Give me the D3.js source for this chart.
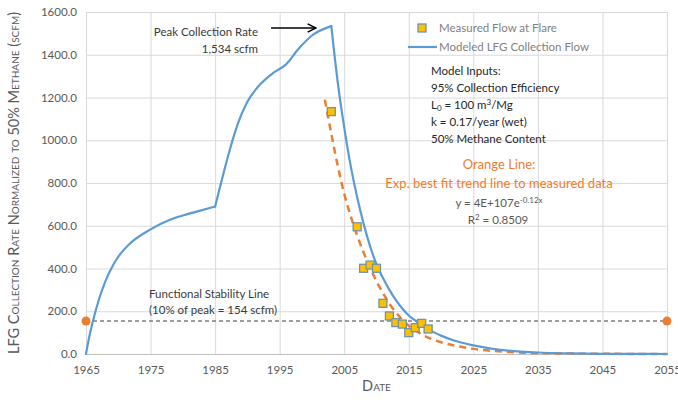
<!DOCTYPE html>
<html>
<head>
<meta charset="utf-8">
<script src="https://cdn.jsdelivr.net/npm/d3@7.9.0/dist/d3.min.js"></script>
<style>
  body { margin: 0; background: #fff; }
  text { font-family: Lato, "Open Sans", sans-serif; }
</style>
</head>
<body>
<div id="chart"></div>
<script>
// modeled LFG collection flow (three phases)
const phase1Years = [1965, 1965.5, 1966, 1967, 1968, 1969, 1970, 1972, 1975, 1978, 1980, 1982, 1985];
const phase1Flow  = [0, 80, 145, 255, 340, 405, 455, 522, 583, 628, 648, 665, 690];
const phase2Years = [1985, 1986, 1987, 1988, 1989, 1990, 1992, 1994, 1996, 1998, 2000, 2003];
const phase2Flow  = [690, 810, 925, 1030, 1115, 1180, 1262, 1315, 1355, 1430, 1490, 1534];
const phase3Years = [2003, 2004, 2005, 2006, 2007, 2008, 2009, 2010, 2011, 2012, 2013, 2014, 2015, 2016, 2017, 2018, 2019, 2020, 2022, 2025, 2028, 2030, 2035, 2040, 2045, 2050, 2055];
const phase3Flow  = [1534, 1270, 1060, 880, 735, 610, 505, 420, 355, 300, 252, 213, 180, 157, 135, 116, 100, 86, 63, 40, 24, 17, 7, 3, 1, 0.5, 0];

// measured flow at flare
const measuredYears = [2003, 2007, 2008, 2009, 2010, 2011, 2012, 2013, 2014, 2015, 2016, 2017, 2018];
const measuredFlow  = [1134, 595, 401, 416, 401, 237, 178, 147, 140, 100, 123, 143, 117];

// exponential trend line (orange dashed)
const trendYears = [2002, 2003, 2004, 2005, 2006, 2007, 2008, 2009, 2010, 2011, 2012, 2013, 2014, 2015, 2016, 2017, 2018, 2020, 2022, 2025, 2030, 2035, 2045, 2055];
const trendFlow  = [1190, 1030, 880, 750, 645, 555, 475, 405, 340, 285, 235, 195, 160, 132, 110, 92, 77, 55, 40, 24, 10, 4, 1, 0];

const stabilityLine = 154;
const xTicks = [1965, 1975, 1985, 1995, 2005, 2015, 2025, 2035, 2045, 2055];
const yTicks = [0, 200, 400, 600, 800, 1000, 1200, 1400, 1600];

const width = 678;
const height = 400;
const margin = { top: 12, right: 11, bottom: 46, left: 86 };

const svg = d3.select('#chart')
  .append('svg')
  .attr('width', width)
  .attr('height', height);

const x = d3.scaleLinear().domain([1965, 2055]).range([margin.left, width - margin.right]);
const y = d3.scaleLinear().domain([0, 1600]).range([height - margin.bottom, margin.top]);

const plotW = width - margin.left - margin.right;
const plotH = height - margin.top - margin.bottom;

// gridlines
svg.append('g')
  .attr('transform', `translate(${margin.left},0)`)
  .call(d3.axisLeft(y).tickValues(yTicks).tickFormat('').tickSize(-plotW))
  .call(g => g.select('.domain').remove())
  .call(g => g.selectAll('line').attr('stroke', '#d9d9d9'));

svg.append('g')
  .attr('transform', `translate(0,${margin.top})`)
  .call(d3.axisBottom(x).tickValues(xTicks).tickFormat('').tickSize(plotH))
  .call(g => g.select('.domain').remove())
  .call(g => g.selectAll('line').attr('stroke', '#d9d9d9'));

// axes
svg.append('g')
  .attr('transform', `translate(0,${y(0)})`)
  .call(d3.axisBottom(x).tickValues(xTicks).tickFormat(d3.format('d')).tickSize(0).tickPadding(12))
  .call(g => g.select('.domain').attr('stroke', '#bfbfbf'))
  .call(g => g.selectAll('text').attr('fill', '#595959').style('font-size', '11.5px'));

svg.append('g')
  .attr('transform', `translate(${margin.left},0)`)
  .call(d3.axisLeft(y).tickValues(yTicks).tickFormat(d3.format('.1f')).tickSize(0).tickPadding(9))
  .call(g => g.select('.domain').remove())
  .call(g => g.selectAll('text').attr('fill', '#595959').style('font-size', '11.5px'));

// axis titles
svg.append('text')
  .attr('transform', `translate(19,${(margin.top + y(0)) / 2}) rotate(-90)`)
  .attr('text-anchor', 'middle')
  .attr('fill', '#595959')
  .style('font-size', '14.5px')
  .style('font-variant', 'small-caps')
  .text('LFG Collection Rate Normalized to 50% Methane (scfm)');

svg.append('text')
  .attr('x', (x(1965) + x(2055)) / 2)
  .attr('y', 391)
  .attr('text-anchor', 'middle')
  .attr('fill', '#595959')
  .style('font-size', '14.5px')
  .style('font-variant', 'small-caps')
  .text('Date');

// functional stability line
svg.append('line')
  .attr('x1', x(1965)).attr('x2', x(2055))
  .attr('y1', y(stabilityLine)).attr('y2', y(stabilityLine))
  .attr('stroke', '#7f7f7f')
  .attr('stroke-width', 1.5)
  .attr('stroke-dasharray', '4,3');

svg.selectAll('.stab-dot')
  .data([1965, 2055])
  .join('circle')
  .attr('cx', d => x(d))
  .attr('cy', y(stabilityLine))
  .attr('r', 4.5)
  .attr('fill', '#ed7d31');

const line = d3.line()
  .x(d => x(d[0]))
  .y(d => y(d[1]))
  .curve(d3.curveMonotoneX);

const zip = (a, b) => a.map((v, i) => [v, b[i]]);

// trend line
svg.append('path')
  .datum(zip(trendYears, trendFlow))
  .attr('d', line)
  .attr('fill', 'none')
  .attr('stroke', '#ed7d31')
  .attr('stroke-width', 2.5)
  .attr('stroke-dasharray', '7,5');

// modeled flow
[zip(phase1Years, phase1Flow), zip(phase2Years, phase2Flow), zip(phase3Years, phase3Flow)].forEach(seg => {
  svg.append('path')
    .datum(seg)
    .attr('d', line)
    .attr('fill', 'none')
    .attr('stroke', '#5b9bd5')
    .attr('stroke-width', 2.2)
    .attr('stroke-linejoin', 'round')
    .attr('stroke-linecap', 'round');
});

// measured points
const sq = 8;
svg.selectAll('.measured')
  .data(zip(measuredYears, measuredFlow))
  .join('rect')
  .attr('x', d => x(d[0]) - sq / 2)
  .attr('y', d => y(d[1]) - sq / 2)
  .attr('width', sq)
  .attr('height', sq)
  .attr('fill', '#ffc000')
  .attr('stroke', '#6f94ac')
  .attr('stroke-width', 1.3);

// legend
svg.append('rect')
  .attr('x', 418).attr('y', 24).attr('width', 8).attr('height', 8)
  .attr('fill', '#ffc000').attr('stroke', '#6f94ac').attr('stroke-width', 1.3);
svg.append('text')
  .attr('x', 439).attr('y', 32)
  .attr('fill', '#7f7f7f').style('font-size', '11.5px')
  .text('Measured Flow at Flare');
svg.append('line')
  .attr('x1', 408).attr('x2', 437).attr('y1', 47).attr('y2', 47)
  .attr('stroke', '#5b9bd5').attr('stroke-width', 2.2);
svg.append('text')
  .attr('x', 439).attr('y', 51)
  .attr('fill', '#7f7f7f').style('font-size', '11.5px')
  .text('Modeled LFG Collection Flow');

// peak annotation
svg.append('defs').append('marker')
  .attr('id', 'arrow')
  .attr('viewBox', '0 0 10 10')
  .attr('refX', 9).attr('refY', 5)
  .attr('markerWidth', 8).attr('markerHeight', 8)
  .attr('orient', 'auto')
  .append('path')
  .attr('d', 'M1,1 L9,5 L1,9')
  .attr('fill', 'none')
  .attr('stroke', '#000')
  .attr('stroke-width', 1.4);

svg.append('line')
  .attr('x1', 271).attr('x2', 316).attr('y1', 28).attr('y2', 28)
  .attr('stroke', '#000').attr('stroke-width', 1.3)
  .attr('marker-end', 'url(#arrow)');

const dark = '#3a3a3a';
svg.append('text')
  .attr('x', 258).attr('y', 36)
  .attr('text-anchor', 'end')
  .attr('fill', dark).style('font-size', '11.5px')
  .text('Peak Collection Rate');
svg.append('text')
  .attr('x', 258).attr('y', 53)
  .attr('text-anchor', 'end')
  .attr('fill', dark).style('font-size', '11.5px')
  .text('1,534 scfm');

// model inputs block
const inputs = svg.append('text')
  .attr('fill', '#262626').style('font-size', '11.5px');
inputs.append('tspan').attr('x', 431).attr('y', 75).text('Model Inputs:');
inputs.append('tspan').attr('x', 431).attr('y', 92).text('95% Collection Efficiency');
const l0 = inputs.append('tspan').attr('x', 431).attr('y', 109);
l0.append('tspan').text('L');
l0.append('tspan').attr('dy', 2).style('font-size', '8px').text('0');
l0.append('tspan').attr('dy', -2).text(' = 100 m');
l0.append('tspan').attr('dy', -4).style('font-size', '8px').text('3');
l0.append('tspan').attr('dy', 4).text('/Mg');
inputs.append('tspan').attr('x', 431).attr('y', 126).text('k = 0.17/year (wet)');
inputs.append('tspan').attr('x', 431).attr('y', 143).text('50% Methane Content');

// trend annotation
svg.append('text')
  .attr('x', 499).attr('y', 169)
  .attr('text-anchor', 'middle')
  .attr('fill', '#ed7d31').style('font-size', '13px')
  .text('Orange Line:');
svg.append('text')
  .attr('x', 499).attr('y', 188)
  .attr('text-anchor', 'middle')
  .attr('fill', '#ed7d31').style('font-size', '13px')
  .text('Exp. best fit trend line to measured data');

const eq = svg.append('text')
  .attr('x', 499).attr('y', 207)
  .attr('text-anchor', 'middle')
  .attr('fill', '#595959').style('font-size', '11.5px');
eq.append('tspan').text('y = 4E+107e');
eq.append('tspan').attr('dy', -4).style('font-size', '8px').text('-0.12x');

const r2 = svg.append('text')
  .attr('x', 498).attr('y', 224)
  .attr('text-anchor', 'middle')
  .attr('fill', '#595959').style('font-size', '11.5px');
r2.append('tspan').text('R');
r2.append('tspan').attr('dy', -4).style('font-size', '8px').text('2');
r2.append('tspan').attr('dy', 4).text(' = 0.8509');

// stability label
svg.append('text')
  .attr('x', 149).attr('y', 298)
  .attr('fill', dark).style('font-size', '11.5px')
  .text('Functional Stability Line');
svg.append('text')
  .attr('x', 149).attr('y', 314)
  .attr('fill', dark).style('font-size', '11.5px')
  .text('(10% of peak = 154 scfm)');
</script>
</body>
</html>
